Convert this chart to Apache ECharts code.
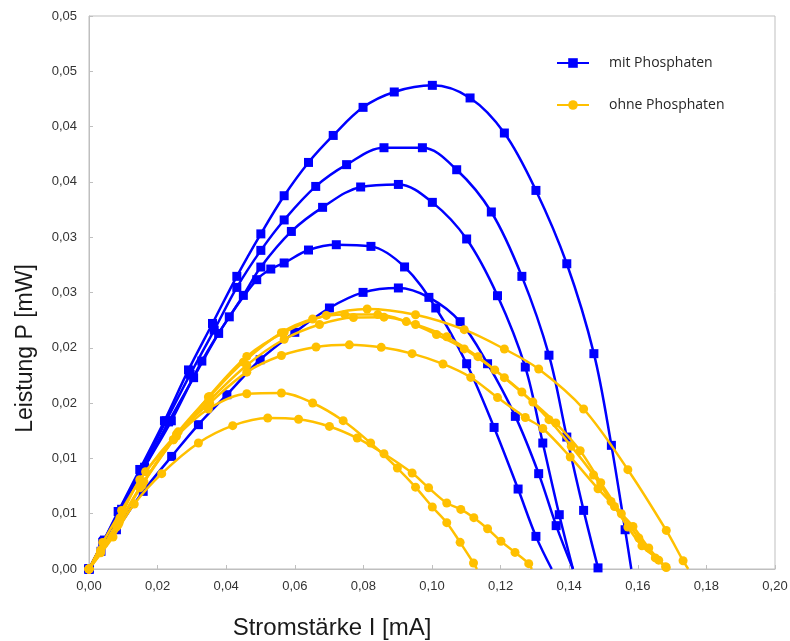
<!DOCTYPE html>
<html>
<head>
<meta charset="utf-8">
<script src="https://cdn.jsdelivr.net/npm/echarts@6/dist/echarts.min.js"></script>
<style>
html,body{margin:0;padding:0;background:#fff;}
#chart{width:790px;height:641px;}
</style>
</head>
<body>
<div id="chart"></div>
<script>
// Data: [Stromstärke I (mA), Leistung P (mW)]
const mit1 = [[0,0],[0.004,0.0024],[0.0085,0.0052],[0.0148,0.009],[0.022,0.0134],[0.029,0.018],[0.036,0.0222],[0.0431,0.02646],[0.0501,0.0303],[0.0569,0.03375],[0.064,0.03676],[0.0712,0.0392],[0.0799,0.04174],[0.089,0.04313],[0.1001,0.04373],[0.1111,0.04259],[0.1211,0.03942],[0.1303,0.03423],[0.1393,0.0276],[0.1472,0.01947],[0.1523,0.01118],[0.1563,0.00355],[0.1581,0]];
const mit2 = [[0,0],[0.0042,0.0025],[0.0088,0.0052],[0.0152,0.0089],[0.0225,0.0134],[0.0295,0.0176],[0.0365,0.0216],[0.0431,0.02546],[0.0501,0.02881],[0.0569,0.03156],[0.0661,0.03459],[0.0751,0.03656],[0.086,0.03809],[0.0972,0.03809],[0.1072,0.0361],[0.1173,0.03228],[0.1262,0.02646],[0.1341,0.01933],[0.1393,0.01193],[0.1442,0.0053],[0.1484,0.0001]];
const mit3 = [[0,0],[0.0045,0.0026],[0.009,0.0052],[0.0158,0.009],[0.0232,0.0133],[0.0305,0.0173],[0.0378,0.0213],[0.045,0.02474],[0.0501,0.0273],[0.059,0.03052],[0.0681,0.0327],[0.0792,0.03454],[0.0902,0.03477],[0.1001,0.03315],[0.1101,0.02984],[0.1191,0.02471],[0.1272,0.01826],[0.1323,0.01139],[0.1371,0.00491],[0.1411,0]];
const mit4 = [[0,0],[0.0045,0.0026],[0.0095,0.0054],[0.0162,0.0092],[0.024,0.0134],[0.0329,0.0188],[0.0409,0.0228],[0.0489,0.02616],[0.053,0.02712],[0.0569,0.02767],[0.064,0.02884],[0.0721,0.02932],[0.0822,0.02917],[0.092,0.02731],[0.1011,0.0236],[0.1101,0.01856],[0.1181,0.0128],[0.1251,0.00723],[0.1303,0.00295],[0.1349,0]];
const mit5 = [[0,0],[0.0035,0.0016],[0.008,0.00355],[0.0158,0.00702],[0.0241,0.01018],[0.0319,0.01305],[0.0402,0.01576],[0.0499,0.01892],[0.06,0.0214],[0.0701,0.0236],[0.0799,0.02501],[0.0902,0.02541],[0.0991,0.02456],[0.1082,0.02236],[0.1162,0.01856],[0.1243,0.0138],[0.1311,0.00862],[0.1362,0.00392],[0.1411,0]];

const ohne1 = [[0,0],[0.007,0.00289],[0.0132,0.00588],[0.0212,0.00862],[0.0319,0.01139],[0.0419,0.01296],[0.0521,0.01365],[0.0611,0.01354],[0.0701,0.01289],[0.0782,0.01184],[0.086,0.01042],[0.0942,0.00868],[0.099,0.00735],[0.1043,0.00597],[0.1084,0.00539],[0.1122,0.00464],[0.1162,0.00364],[0.1201,0.00251],[0.1242,0.0015],[0.1282,0.00048],[0.1291,0]];
const ohne2 = [[0,0],[0.009,0.00461],[0.0148,0.00807],[0.0246,0.01169],[0.0348,0.01447],[0.046,0.01585],[0.0561,0.01591],[0.0652,0.01501],[0.0741,0.01341],[0.0821,0.01139],[0.0899,0.00913],[0.0952,0.0074],[0.1001,0.00561],[0.1043,0.00419],[0.1082,0.00241],[0.1121,0.00054],[0.1131,0]];
const ohne3 = [[0,0],[0.004,0.0024],[0.0095,0.0053],[0.0165,0.0088],[0.0255,0.0122],[0.0352,0.015],[0.046,0.0178],[0.0561,0.0193],[0.0662,0.02007],[0.0759,0.02027],[0.0852,0.02004],[0.0942,0.01947],[0.1032,0.01854],[0.1113,0.01732],[0.1191,0.0155],[0.1272,0.0137],[0.1323,0.0127],[0.1403,0.01013],[0.1484,0.00726],[0.1532,0.00565],[0.1586,0.00385],[0.1632,0.0019],[0.1683,0.00014]];
const ohne4 = [[0,0],[0.0034,0.0017],[0.0088,0.0042],[0.016,0.0079],[0.026,0.0124],[0.0352,0.0156],[0.045,0.0187],[0.0561,0.02137],[0.0652,0.0226],[0.0746,0.023],[0.0842,0.023],[0.0925,0.02237],[0.1013,0.0212],[0.1094,0.0199],[0.1183,0.018],[0.1262,0.016],[0.1341,0.0135],[0.1406,0.0111],[0.1471,0.0085],[0.1522,0.0061],[0.1571,0.0038],[0.1612,0.0021],[0.1661,0.0008],[0.1685,0]];
const ohne5 = [[0,0],[0.0034,0.0016],[0.0085,0.004],[0.0155,0.0076],[0.0255,0.012],[0.0348,0.01513],[0.046,0.01843],[0.0569,0.02077],[0.0672,0.02211],[0.0771,0.02274],[0.086,0.02277],[0.0952,0.02211],[0.1043,0.021],[0.1134,0.0192],[0.1211,0.0173],[0.1294,0.0151],[0.1361,0.0132],[0.1432,0.0107],[0.1492,0.0078],[0.1552,0.005],[0.1603,0.0028],[0.1651,0.001],[0.1681,0.0002]];
const ohne6 = [[0,0],[0.0034,0.00147],[0.0081,0.00382],[0.0148,0.00735],[0.0246,0.01169],[0.0348,0.01555],[0.046,0.01922],[0.0569,0.02139],[0.0692,0.02293],[0.0811,0.02351],[0.0952,0.02299],[0.1094,0.02164],[0.1211,0.01989],[0.1311,0.01808],[0.1442,0.01447],[0.1571,0.00898],[0.1683,0.00349],[0.1732,0.00075],[0.1747,0]];

const xTickLabels = ['0,00','0,02','0,04','0,06','0,08','0,10','0,12','0,14','0,16','0,18','0,20'];
const yTickLabels = ['0,00','0,01','0,01','0,02','0,02','0,03','0,03','0,04','0,04','0,05','0,05'];

const mitSeries = [mit1, mit2, mit3, mit4, mit5];
const ohneSeries = [ohne1, ohne2, ohne3, ohne4, ohne5, ohne6];
// whether the last point of each series shows a marker
const mitEndMarker = [false, true, false, false, false];
const ohneEndMarker = [false, false, true, false, true, false];

function toData(arr, endMarker) {
  return arr.map((p, i) => {
    if (i === arr.length - 1 && !endMarker) return { value: p, symbol: 'none' };
    return p;
  });
}

const BLUE = '#0000FF';
const GOLD = '#FFC000';

const series = [];
mitSeries.forEach((s, i) => {
  series.push({
    type: 'line', name: 'mit Phosphaten', data: toData(s, mitEndMarker[i]),
    smooth: 0.35,
    symbol: 'rect', symbolSize: 9,
    lineStyle: { color: BLUE, width: 2.5 }, itemStyle: { color: BLUE },
    z: 2
  });
});
ohneSeries.forEach((s, i) => {
  series.push({
    type: 'line', name: 'ohne Phosphaten', data: toData(s, ohneEndMarker[i]),
    smooth: 0.35,
    symbol: 'circle', symbolSize: 9,
    lineStyle: { color: GOLD, width: 2.5 }, itemStyle: { color: GOLD },
    z: 3
  });
});

const chart = echarts.init(document.getElementById('chart'), null, { renderer: 'canvas' });
chart.setOption({
  animation: false,
  backgroundColor: '#fff',
  grid: { left: 89, right: 15, top: 16, bottom: 72, outerBoundsMode: 'none', containLabel: false, show: true, borderColor: '#BFBFBF', borderWidth: 1, backgroundColor: 'transparent' },
  legend: {
    data: ['mit Phosphaten', 'ohne Phosphaten'],
    orient: 'vertical', left: 551, top: 51,
    itemWidth: 32, itemHeight: 12, itemGap: 28,
    textStyle: { fontFamily: 'Open Sans', fontSize: 14, color: '#262626', padding: [0, 0, 0, 15] }
  },
  xAxis: {
    type: 'value', min: 0, max: 0.2, interval: 0.02,
    name: 'Stromstärke I [mA]', nameLocation: 'middle', nameGap: 47,
    nameTextStyle: { fontFamily: 'Liberation Sans', fontSize: 24, color: '#1a1a1a', padding: [0, 200, 0, 0] },
    axisLine: { show: true, lineStyle: { color: '#BFBFBF', width: 1 } },
    axisTick: { show: true, inside: true, length: 4, lineStyle: { color: '#BFBFBF' } },
    axisLabel: { margin: 11, fontFamily: 'Liberation Sans', fontSize: 13, color: '#333', formatter: v => xTickLabels[Math.round(v / 0.02)] },
    splitLine: { show: false }
  },
  yAxis: {
    type: 'value', min: 0, max: 0.05, interval: 0.005,
    name: 'Leistung P [mW]', nameLocation: 'middle', nameGap: 52,
    nameTextStyle: { fontFamily: 'Liberation Sans', fontSize: 23, color: '#1a1a1a', padding: [0, 112, 0, 0] },
    axisLine: { show: true, lineStyle: { color: '#BFBFBF', width: 1 } },
    axisTick: { show: true, inside: true, length: 4, lineStyle: { color: '#BFBFBF' } },
    axisLabel: { margin: 12, fontFamily: 'Liberation Sans', fontSize: 13, color: '#333', formatter: v => yTickLabels[Math.round(v / 0.005)] },
    splitLine: { show: false }
  },
  series: series
});
</script>
</body>
</html>
